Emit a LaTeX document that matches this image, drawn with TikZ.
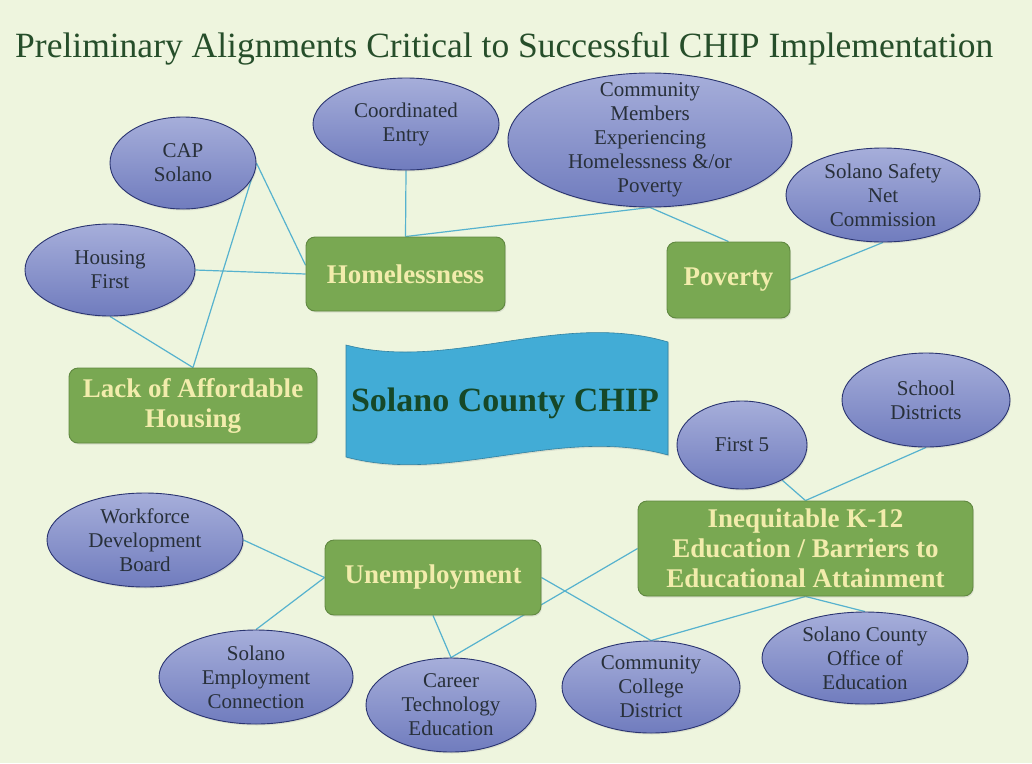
\documentclass[tikz,border=0pt]{standalone}
\usepackage{fontspec}
\setmainfont{Liberation Serif}
\usepackage{tikz}
\usetikzlibrary{shapes.geometric,shadows,backgrounds}

\definecolor{bgcol}{RGB}{238,245,222}
\definecolor{titlecol}{RGB}{38,78,42}
\definecolor{linkcol}{RGB}{86,178,206}
\definecolor{bubtop}{RGB}{166,174,218}
\definecolor{bubbot}{RGB}{112,124,190}
\definecolor{bubedge}{RGB}{42,52,112}
\definecolor{bubink}{RGB}{40,48,58}
\definecolor{boxcol}{RGB}{121,168,82}
\definecolor{boxedge}{RGB}{96,136,64}
\definecolor{boxink}{RGB}{242,236,172}
\definecolor{flagcol}{RGB}{66,172,214}
\definecolor{flagink}{RGB}{22,72,40}

\begin{document}
\begin{tikzpicture}[x=1pt,y=-1pt,
  bubble/.style={ellipse,draw=bubedge,line width=0.9pt,top color=bubtop,bottom color=bubbot,
    inner sep=0pt,drop shadow={opacity=0.18,shadow xshift=1pt,shadow yshift=-1.5pt}},
  bubtext/.style={text=bubink,align=center,font=\fontsize{21}{24}\selectfont},
  topic/.style={rectangle,draw=boxedge,line width=0.9pt,fill=boxcol,rounded corners=9pt,
    text=boxink,align=center,font=\bfseries\fontsize{27}{30}\selectfont,inner sep=0pt,
    drop shadow={opacity=0.18,shadow xshift=1pt,shadow yshift=-1.5pt}},
  link/.style={draw=linkcol,line width=1.2pt}]
\useasboundingbox (0,0) rectangle (1032,763);

% title
\node[anchor=base west,inner sep=0pt,text=titlecol,font=\fontsize{35.5}{40}\selectfont] (title) at (15,57)
  {Preliminary Alignments Critical to Successful CHIP Implementation};

% banner in the middle
\draw[fill=flagcol,draw=flagcol!75!black,line width=0.6pt,drop shadow={opacity=0.18,shadow xshift=1pt,shadow yshift=-1.5pt}]
  (346,345) .. controls (450,372) and (560,310) .. (668,342) -- (668,455)
  .. controls (560,425) and (450,485) .. (346,457) -- cycle;
\node[text=flagink,font=\bfseries\fontsize{34}{38}\selectfont] (chip) at (505,403) {Solano County CHIP};

% topics
\node[topic,minimum width=199,minimum height=74] (home) at (405.5,274) {Homelessness};
\node[topic,minimum width=123,minimum height=76] (pov) at (728.5,280) {Poverty};
\node[topic,minimum width=248,minimum height=75] (lack) at (193,405.5) {Lack of Affordable\\Housing};
\node[topic,minimum width=216,minimum height=75] (unemp) at (433,577.5) {Unemployment};
\node[topic,minimum width=335,minimum height=95] (ineq) at (805.5,548.5)
  {Inequitable K-12\\Education / Barriers to\\Educational Attainment};

% partners
\node[bubble,minimum width=146,minimum height=92,label={[bubtext]center:{CAP\\Solano}}] (cap) at (183,163) {};
\node[bubble,minimum width=186,minimum height=92,label={[bubtext]center:{Coordinated\\Entry}}] (entry) at (406,124) {};
\node[bubble,minimum width=170,minimum height=92,label={[bubtext]center:{Housing\\First}}] (hf) at (110,270) {};
\node[bubble,minimum width=284,minimum height=134,
  label={[bubtext]center:{Community\\Members\\Experiencing\\Homelessness \&/or\\Poverty}}] (comm) at (650,140) {};
\node[bubble,minimum width=194,minimum height=94,label={[bubtext]center:{Solano Safety\\Net\\Commission}}] (safety) at (883,195) {};
\node[bubble,minimum width=168,minimum height=94,label={[bubtext]center:{School\\Districts}}] (school) at (926,400) {};
\node[bubble,minimum width=130,minimum height=88,label={[bubtext]center:{First 5}}] (first) at (742,445) {};
\node[bubble,minimum width=196,minimum height=94,label={[bubtext]center:{Workforce\\Development\\Board}}] (work) at (145,540) {};
\node[bubble,minimum width=194,minimum height=94,label={[bubtext]center:{Solano\\Employment\\Connection}}] (sec) at (256,677) {};
\node[bubble,minimum width=170,minimum height=94,label={[bubtext]center:{Career\\Technology\\Education}}] (cte) at (451,705) {};
\node[bubble,minimum width=178,minimum height=92,label={[bubtext]center:{Community\\College\\District}}] (ccd) at (651,687) {};
\node[bubble,minimum width=206,minimum height=92,label={[bubtext]center:{Solano County\\Office of\\Education}}] (scoe) at (865,658) {};

% connectors behind everything
\begin{scope}[on background layer]
\fill[bgcol] (0,0) rectangle (1032,763);
\draw[link] (cap.east) -- (home.175);
\draw[link] (cap.east) -- (lack.north);
\draw[link] (hf.east) -- (home.west);
\draw[link] (hf.south) -- (lack.north);
\draw[link] (entry.south) -- (home.north);
\draw[link] (home.north) -- (comm.south);
\draw[link] (comm.south) -- (pov.north);
\draw[link] (pov.east) -- (safety.south);
\draw[link] (first) -- (ineq.north);
\draw[link] (school.south) -- (ineq.north);
\draw[link] (work.east) -- (unemp.west);
\draw[link] (sec.north) -- (unemp.west);
\draw[link] (unemp.south) -- (cte.north);
\draw[link] (cte.north) -- (ineq.west);
\draw[link] (unemp.east) -- (ccd.north);
\draw[link] (ccd.north) -- (ineq.south);
\draw[link] (ineq.south) -- (scoe.north);
\end{scope}
\end{tikzpicture}
\end{document}
